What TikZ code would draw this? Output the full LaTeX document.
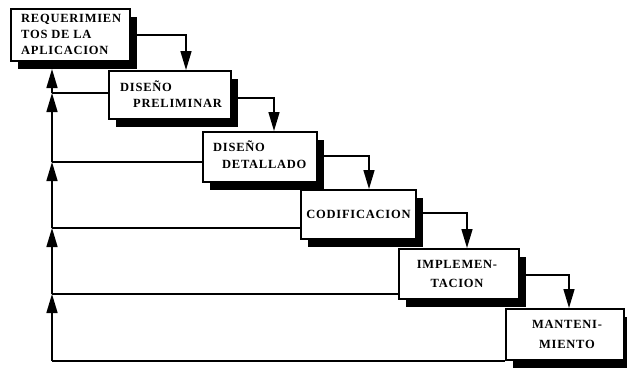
\documentclass[tikz,border=0pt]{standalone}
\usepackage{fontspec}
\setmainfont{Liberation Serif}
\usetikzlibrary{arrows.meta,shadows,backgrounds}
\begin{document}
\begin{tikzpicture}[x=1pt,y=-1pt,
  stage/.style={draw=black, line width=2pt, fill=white, rectangle,
    inner sep=0pt, anchor=north west,
    general shadow={fill=black, shadow xshift=7pt, shadow yshift=-8pt}},
  lbl/.style={font=\bfseries\fontsize{12.5}{#1}\selectfont\addfontfeatures{LetterSpace=6},
    inner sep=0pt},
  lbl/.default=16,
  flow/.style={line width=1.5pt, -{Triangle[length=19pt,width=11pt]}},
  link/.style={line width=1.5pt}]
\useasboundingbox (0,0) rectangle (627,368);

% stages of the cascade
\node[stage, minimum width=119pt, minimum height=52pt] (b1) at (10,8) {};
\node[stage, minimum width=122pt, minimum height=48pt] (b2) at (108,70) {};
\node[stage, minimum width=114pt, minimum height=50pt] (b3) at (202,131) {};
\node[stage, minimum width=115pt, minimum height=49pt] (b4) at (300,189) {};
\node[stage, minimum width=120pt, minimum height=50pt] (b5) at (398,248) {};
\node[stage, minimum width=118pt, minimum height=51pt] (b6) at (505,308) {};

% stage names (base anchor sits on the last line)
\node[lbl, align=left, anchor=base west] (t1) at (21,54)
  {REQUERIMIEN\\TOS DE LA\\APLICACION};
\node[lbl=16, align=left, anchor=base west] (t2) at (120,107)
  {DISEÑO\\\hspace*{13pt}PRELIMINAR};
\node[lbl=17, align=left, anchor=base west] (t3) at (213,168)
  {DISEÑO\\\hspace*{9pt}DETALLADO};
\node[lbl] (t4) at (b4.center) {CODIFICACION};
\node[lbl=19, align=center] (t5) at ([xshift=-2pt]b5.center) {IMPLEMEN-\\TACION};
\node[lbl=20, align=center] (t6) at ([xshift=2pt]b6.center) {MANTENI-\\MIENTO};

\begin{pgfonlayer}{background}
  % forward connectors, each into the next stage
  \draw[flow] (b1.east) -| ([xshift=16pt]b2.north);
  \draw[flow] ([yshift=-3pt]b2.east) -| ([xshift=14pt]b3.north);
  \draw[flow] ([yshift=1pt]b3.east) -| ([xshift=10.5pt]b4.north);
  \draw[flow] ([yshift=1.5pt]b4.east) -| ([xshift=8pt]b5.north);
  \draw[flow] ([yshift=-1pt]b5.east) -| ([xshift=4pt]b6.north);

  % feedback spine on the left
  \coordinate (s6) at (52,361);
  \coordinate (s5) at (52,294);
  \coordinate (s4) at (52,228);
  \coordinate (s3) at (52,162);
  \coordinate (s2) at (52,93);
  \path (b1.south) ++(0,7) coordinate (b1s);
  \coordinate (s1) at (b1s -| s2);

  \draw[link] (s6) -- (s6 -| b6.west);
  \draw[link] (s5) -- (s5 -| b5.west);
  \draw[link] (s4) -- (s4 -| b4.west);
  \draw[link] (s3) -- (s3 -| b3.west);
  \draw[link] (s2) -- (s2 -| b2.west);

  \draw[flow] (s6) -- (s5);
  \draw[flow] (s5) -- (s4);
  \draw[flow] (s4) -- (s3);
  \draw[flow] (s3) -- (s2);
  \draw[flow] (s2) -- (s1);
\end{pgfonlayer}
\end{tikzpicture}
\end{document}
